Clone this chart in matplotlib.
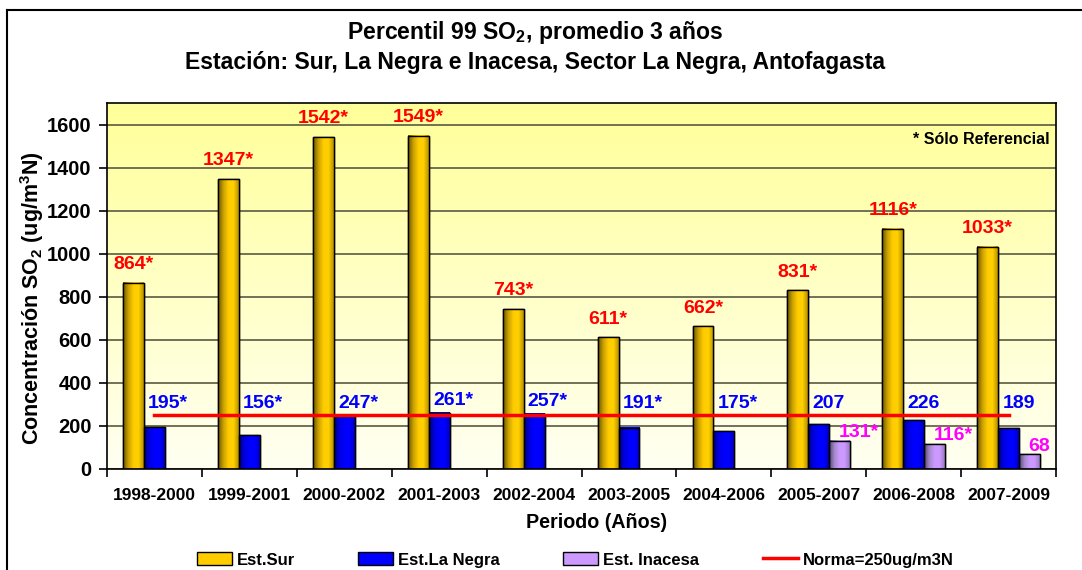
import numpy as np
import matplotlib.pyplot as plt
from matplotlib.colors import LinearSegmentedColormap
from matplotlib.lines import Line2D

plt.rcParams['font.family'] = ['Liberation Sans', 'DejaVu Sans']
plt.rcParams['font.weight'] = 'bold'
plt.rcParams['mathtext.fontset'] = 'custom'
plt.rcParams['mathtext.rm'] = 'Liberation Sans:bold'
plt.rcParams['mathtext.default'] = 'rm'

# Data
periods = ['1998-2000', '1999-2001', '2000-2002', '2001-2003', '2002-2004',
           '2003-2005', '2004-2006', '2005-2007', '2006-2008', '2007-2009']
sur = [864, 1347, 1542, 1549, 743, 611, 662, 831, 1116, 1033]
la_negra = [195, 156, 247, 261, 257, 191, 175, 207, 226, 189]
inacesa = [np.nan] * 7 + [131, 116, 68]
sur_ref = [True] * 10
la_negra_ref = [True] * 7 + [False] * 3
inacesa_ref = [False] * 7 + [True, True, False]
norma = 250

x = np.arange(len(periods))
w = 0.22

fig = plt.figure(figsize=(10.82, 5.70), dpi=100)
ax = fig.add_axes([0.0989, 0.1772, 0.8771, 0.6421])
ax.set_xlim(-0.5, len(periods) - 0.5)
ax.set_ylim(0, 1700)

# yellow background gradient
bg = LinearSegmentedColormap.from_list('bg', ['#FFFFF2', '#FFFF99'])
ax.imshow(np.linspace(0, 1, 256).reshape(-1, 1), cmap=bg, origin='lower',
          extent=[-0.5, len(periods) - 0.5, 0, 1700], aspect='auto', zorder=0)

ax.grid(axis='y', color='#66664d', linewidth=1.3, zorder=1)
ax.set_yticks(np.arange(0, 1601, 200))

series = [
    (sur, -w, 'Est.Sur', ['#6b5500', '#c9a000', '#FFCC00', '#FFD000', '#b89000']),
    (la_negra, 0, 'Est.La Negra', ['#000080', '#0000dd', '#0000FF', '#0000FF', '#0000c0']),
    (inacesa, w, 'Est. Inacesa', ['#5a4470', '#a088c8', '#CC99FF', '#CC99FF', '#9a7cc0']),
]
handles = []
for vals, off, name, cols in series:
    cm = LinearSegmentedColormap.from_list(name, cols)
    bars = ax.bar(x + off, vals, w, color=cols[2], edgecolor='black',
                  linewidth=1, zorder=3, label=name)
    for r in bars:
        if np.isnan(r.get_height()):
            continue
        ax.imshow(np.linspace(0, 1, 64).reshape(1, -1), cmap=cm, aspect='auto',
                  extent=[r.get_x(), r.get_x() + r.get_width(), 0, r.get_height()],
                  zorder=3.5)
    ax.bar(x + off, vals, w, fill=False, edgecolor='black', linewidth=1, zorder=4)
    handles.append(bars)

ln, = ax.plot([x[0], x[-1]], [norma, norma], color='red', linewidth=2.5, zorder=5,
              label='Norma=250ug/m3N')
handles.append(ln)
ax.set_xlim(-0.5, len(periods) - 0.5)
ax.set_ylim(0, 1700)

# value labels
for i in x:
    ax.annotate(f"{sur[i]}{'*' if sur_ref[i] else ''}", (x[i] - w, sur[i]),
                xytext=(0, 13), textcoords='offset points', ha='center', va='center',
                color='red', fontsize=14, fontweight='bold', zorder=6)
    ax.annotate(f"{la_negra[i]}{'*' if la_negra_ref[i] else ''}",
                (x[i] - w / 2, max(la_negra[i], norma)),
                xytext=(3, 8.5), textcoords='offset points', ha='left', va='center',
                color='#0000FF', fontsize=14, fontweight='bold', zorder=6)
    if not np.isnan(inacesa[i]):
        ax.annotate(f"{inacesa[i]:.0f}{'*' if inacesa_ref[i] else ''}",
                    (x[i] + w / 2, inacesa[i]),
                    xytext=(7, 6), textcoords='offset points', ha='left', va='center',
                    color='#FF00FF', fontsize=14, fontweight='bold', zorder=6)

ax.text(0.993, 0.9, '* Sólo Referencial', transform=ax.transAxes, ha='right',
        va='center', fontsize=11.5, fontweight='bold')

# axes styling
ax.set_xticks(np.arange(-0.5, len(periods), 1))
ax.set_xticklabels([])
ax.set_xticks(x, minor=True)
ax.set_xticklabels(periods, minor=True, fontsize=12.5, fontweight='bold')
ax.tick_params(axis='x', which='major', length=6, width=1.2, direction='out')
ax.tick_params(axis='x', which='minor', length=0, pad=14)
ax.tick_params(axis='y', length=6, width=1.2, labelsize=14.5, pad=5)
for s in ax.spines.values():
    s.set_linewidth(1.2)
    s.set_zorder(7)

fig.text(535 / 1082, 1 - 33 / 570, 'Percentil 99 SO$_2$, promedio 3 años',
         ha='center', va='center', fontsize=16.6, fontweight='bold')
fig.text(535 / 1082, 1 - 63 / 570,
         'Estación: Sur, La Negra e Inacesa, Sector La Negra, Antofagasta',
         ha='center', va='center', fontsize=16.6, fontweight='bold')
fig.text(32 / 1082, 1 - 298 / 570, 'Concentración SO$_2$ (ug/m$^3$N)', rotation=90,
         ha='center', va='center', fontsize=15.5, fontweight='bold')
fig.text(597 / 1082, 1 - 523 / 570, 'Periodo (Años)', ha='center', va='center',
         fontsize=14.2, fontweight='bold')

fig.legend(handles=handles, loc='center', bbox_to_anchor=(575 / 1082, 1 - 560 / 570),
           ncol=4, frameon=False, fontsize=12, handlelength=2.1, handleheight=0.8,
           columnspacing=3.8, handletextpad=0.3)

# outer chart frame
fig.add_artist(Line2D([7 / 1082, 7 / 1082], [0, 1 - 10 / 570], color='black',
                      linewidth=1.5, transform=fig.transFigure))
fig.add_artist(Line2D([7 / 1082, 1], [1 - 10 / 570, 1 - 10 / 570], color='black',
                      linewidth=1.5, transform=fig.transFigure))

fig.savefig('out.png', dpi=100)
